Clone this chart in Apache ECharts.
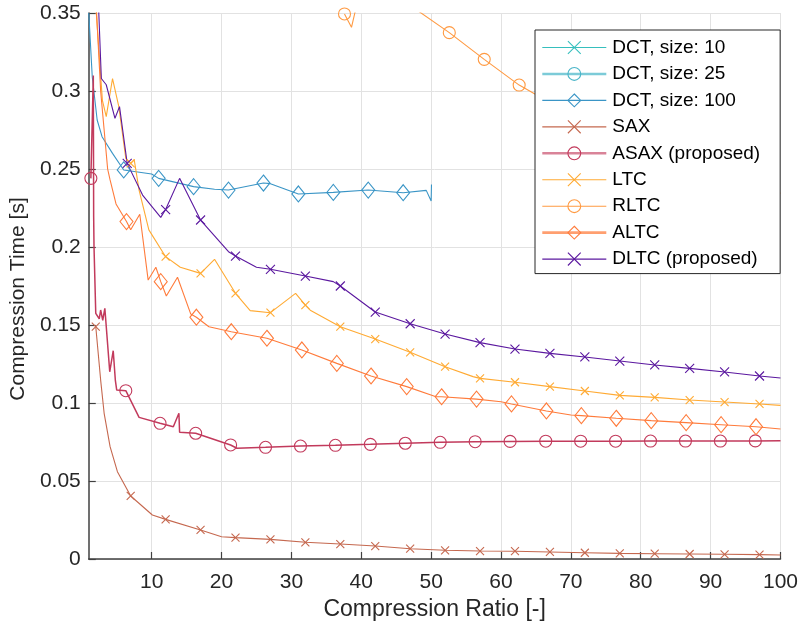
<!DOCTYPE html>
<html><head><meta charset="utf-8">
<script src="https://cdn.jsdelivr.net/npm/echarts@6/dist/echarts.min.js"></script>
<style>html,body{margin:0;padding:0;background:#fff}#c{width:801px;height:631px}</style>
</head><body><div id="c"></div>
<script>
const xTicks = [10,20,30,40,50,60,70,80,90,100];

const dct10 = [];
const dct10Marks = [];
const dct25 = [];
const dct25Marks = [];
const dct100 = [[1,0.35],[1.5,0.309],[2.2,0.2814],[2.9,0.2707],[4.4,0.26],[6,0.2494],[10,0.2468],[11,0.244],[16,0.2387],[19,0.237],[21,0.2365],[26,0.241],[27,0.2406],[31,0.234],[36,0.235],[41,0.2365],[46,0.2348],[49.3,0.2363],[50,0.2295],[50.05,0.240]];
const dct100Marks = [6,11,16,21,26,31,36,41,46];
const sax = [[2,0.149],[2.7,0.1147],[3.2,0.0934],[4.05,0.072],[5.1,0.056],[7,0.0404],[10.1,0.0282],[12,0.0254],[17,0.0186],[20,0.0143],[22,0.0137],[27,0.0126],[32,0.0107],[37,0.0096],[42,0.0083],[47,0.0066],[52,0.0056],[57,0.0051],[62,0.005],[67,0.0045],[72,0.004],[77,0.0036],[82,0.0034],[87,0.0032],[92,0.003],[97,0.0028],[100,0.0026]];
const saxMarks = [2,7,12,17,22,27,32,37,42,47,52,57,62,67,72,77,82,87,92,97];
const asax = [[1.3,0.244],[1.65,0.31],[1.7,0.2195],[1.75,0.2],[2.0,0.1575],[2.5,0.154],[2.7,0.1596],[3.0,0.153],[3.3,0.1607],[4.0,0.12],[4.5,0.1335],[4.8,0.1147],[5.0,0.1083],[6.3,0.1079],[8.2,0.0908],[11.2,0.087],[13.1,0.0848],[13.9,0.0934],[14.0,0.0812],[16.3,0.0806],[21.3,0.0731],[22.2,0.071],[26.3,0.0716],[31.3,0.0724],[36.3,0.0729],[41.3,0.0735],[46.3,0.0742],[51.3,0.0748],[56.3,0.0752],[61.3,0.0754],[66.4,0.0755],[71.4,0.0755],[76.4,0.0755],[81.4,0.0756],[86.4,0.0756],[91.4,0.0756],[96.4,0.0757],[100,0.0758]];
const asaxMarks = [1.3,6.3,11.2,16.3,21.3,26.3,31.3,36.3,41.3,46.3,51.3,56.3,61.3,66.4,71.4,76.4,81.4,86.4,91.4,96.4];
const ltc = [[2,0.355],[2.95,0.294],[3.5,0.2836],[4.4,0.308],[5.3,0.29],[6.3,0.2568],[7,0.2536],[7.5,0.256],[8.2,0.2365],[9.6,0.211],[12,0.1938],[14.1,0.187],[17,0.1831],[19,0.1921],[22,0.1703],[24.1,0.1592],[27,0.1579],[30.6,0.1703],[32,0.1628],[32.7,0.1595],[37,0.1489],[42,0.141],[47,0.1325],[52,0.1233],[56,0.1169],[57,0.1158],[62,0.1133],[67,0.1105],[72,0.1077],[77,0.1049],[82,0.1036],[87,0.1019],[92,0.1006],[97,0.0994],[100,0.0985]];
const ltcMarks = [7,12,17,22,27,32,37,42,47,52,57,62,67,72,77,82,87,92,97];
const rltc = [[37.6,0.3494],[38.6,0.3408],[39.6,0.36],[47.6,0.353],[52.6,0.3374],[57.6,0.3203],[62.6,0.3038],[67.6,0.291],[72.6,0.279],[77.6,0.268],[82.6,0.259],[87.6,0.251],[92.6,0.244],[97.8,0.2377],[100,0.2345]];
const rltcMarks = [37.6,47.6,52.6,57.6,62.6,67.6,72.6,77.6,82.6,87.6,92.6,97.8];
const altc = [[2.0,0.36],[2.7,0.3],[3.7,0.25],[4.05,0.243],[4.9,0.2276],[6.4,0.2163],[7,0.211],[8.3,0.221],[9.5,0.1788],[10.6,0.187],[11.3,0.1778],[12.1,0.1686],[13.7,0.1806],[15.6,0.157],[16.4,0.155],[18.2,0.1489],[21.4,0.1457],[26.5,0.1415],[31.5,0.134],[36.5,0.1254],[41.4,0.1173],[46.5,0.1105],[50.7,0.104],[51.5,0.104],[56.5,0.1025],[60,0.1008],[61.5,0.0994],[66.5,0.0949],[70,0.0923],[71.5,0.0919],[76.5,0.0902],[81.5,0.0887],[86.5,0.0874],[91.5,0.0861],[96.5,0.0848],[100,0.0833]];
const altcMarks = [6.4,11.3,16.4,21.4,26.5,31.5,36.5,41.4,46.5,51.5,56.5,61.5,66.5,71.5,76.5,81.5,86.5,91.5,96.5];
const dltc = [[2,0.40],[2.8,0.308],[3.5,0.304],[4.75,0.2825],[5.4,0.29],[6.5,0.2536],[8.7,0.2333],[11.3,0.219],[12,0.224],[14,0.244],[17,0.2173],[21,0.197],[22,0.1942],[25,0.187],[27,0.1857],[32,0.1814],[36,0.1778],[37,0.175],[42,0.1583],[47,0.1508],[52,0.1442],[57,0.1387],[62,0.1346],[67,0.1318],[72,0.1295],[77,0.1269],[82,0.1244],[87,0.1222],[92,0.1199],[97,0.1173],[100,0.116]];
const dltcMarks = [6.5,12,17,22,27,32,37,42,47,52,57,62,67,72,77,82,87,92,97];

const CROSS = 'path://M0,0L10,10M10,0L0,10';
const FONT = 'Liberation Sans, Arial, Helvetica, sans-serif';

function mk(name, data, marks, sym, size, color, width) {
  return {
    name: name, type: 'line',
    data: data.map(p => ({ value: p, symbol: marks.some(m => Math.abs(m - p[0]) < 0.01) ? sym : 'none' })),
    symbol: sym, symbolSize: size, showSymbol: true, showAllSymbol: true,
    lineStyle: { color: color, width: width },
    itemStyle: { color: sym === CROSS ? color : 'rgba(255,255,255,0)', borderColor: color, borderWidth: 1.1 },
    emphasis: { disabled: true }, silent: true, clip: true, animation: false
  };
}

const series = [
  mk('DCT, size: 10', dct10, dct10Marks, CROSS, 8, '#36bfbd', 1.1),
  mk('DCT, size: 25', dct25, dct25Marks, 'circle', 12, '#4ab5c8', 1.1),
  mk('DCT, size: 100', dct100, dct100Marks, 'diamond', [13,16], '#3a95c6', 1.1),
  mk('SAX', sax, saxMarks, CROSS, 8, '#c5684f', 1.1),
  mk('ASAX (proposed)', asax, asaxMarks, 'circle', 12, '#c23a5c', 1.5),
  mk('LTC', ltc, ltcMarks, CROSS, 8, '#ffaa33', 1.1),
  mk('RLTC', rltc, rltcMarks, 'circle', 12, '#ff9a42', 1.1),
  mk('ALTC', altc, altcMarks, 'diamond', [13,16], '#ff7b3b', 1.1),
  mk('DLTC (proposed)', dltc, dltcMarks, CROSS, 9, '#5b189f', 1.1)
];

const thick = { 'DCT, size: 25': 2.6, 'ASAX (proposed)': 2.6, 'ALTC': 2.6 };
const thickColor = { 'DCT, size: 25': '#7ccbd8', 'ASAX (proposed)': '#d98398', 'ALTC': '#ff9f70' };

const chart = echarts.init(document.getElementById('c'), null, { renderer: 'canvas' });
chart.setOption({
  animation: false,
  backgroundColor: '#fff',
  textStyle: { fontFamily: FONT },
  grid: { left: 88, top: 13, width: 694, height: 546, containLabel: false },
  legend: {
    orient: 'vertical', left: 535, top: 30,
    padding: [8, 20, 5, 6],
    itemWidth: 64, itemHeight: 16, itemGap: 7.45,
    backgroundColor: '#fff', borderColor: '#262626', borderWidth: 1, borderRadius: 0,
    selectedMode: false,
    textStyle: { fontFamily: FONT, fontSize: 19, color: '#000', padding: [0,0,0,1] },
    itemStyle: { borderWidth: 1.1 },
    data: series.map(s => ({
      name: s.name,
      lineStyle: { width: thick[s.name] || 1.1, color: thickColor[s.name] || s.lineStyle.color }
    }))
  },
  xAxis: {
    type: 'value', min: 1, max: 100,
    name: 'Compression Ratio [-]', nameLocation: 'middle', nameGap: 36,
    nameTextStyle: { fontFamily: FONT, fontSize: 23, color: '#262626' },
    axisLine: { show: true, onZero: false, lineStyle: { color: '#404040', width: 1.5 } },
    axisTick: { show: true, inside: true, length: 7, customValues: xTicks, lineStyle: { color: '#404040', width: 1.2 } },
    axisLabel: { customValues: xTicks, margin: 13, fontFamily: FONT, fontSize: 21, color: '#262626' },
    splitLine: { show: true, lineStyle: { color: '#e2e2e2', width: 1 } }
  },
  yAxis: {
    type: 'value', min: 0, max: 0.35, interval: 0.05,
    name: 'Compression Time [s]', nameLocation: 'middle', nameGap: 57,
    nameTextStyle: { fontFamily: FONT, fontSize: 21, color: '#262626', padding: [0, 26, 0, 0] },
    axisLine: { show: true, lineStyle: { color: '#404040', width: 1.5 } },
    axisTick: { show: true, inside: true, length: 7, lineStyle: { color: '#404040', width: 1.2 } },
    axisLabel: { margin: 8, fontFamily: FONT, fontSize: 21, color: '#262626' },
    splitLine: { show: true, lineStyle: { color: '#e2e2e2', width: 1 } }
  },
  series: series
});
</script></body></html>
